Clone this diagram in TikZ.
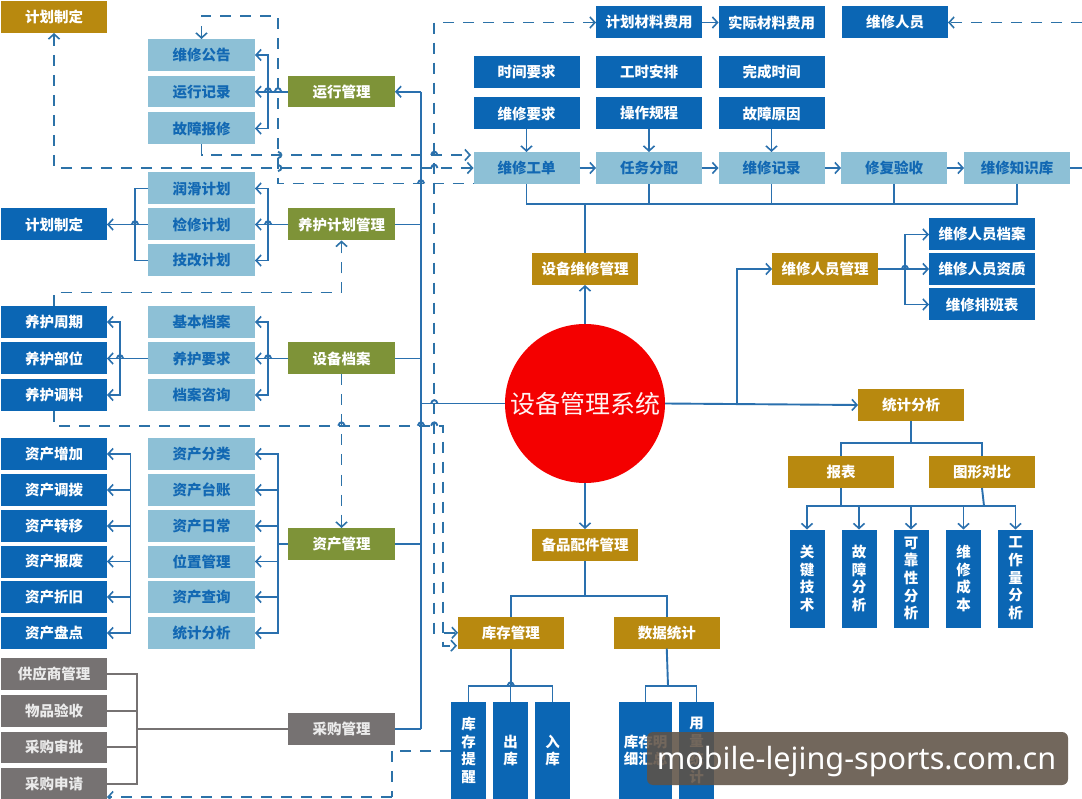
\documentclass[tikz,border=0pt]{standalone}
\usepackage{fontspec}
\setmainfont{Noto Sans CJK SC}
\newfontfamily\wmfont{Noto Sans}
\usetikzlibrary{arrows.meta,calc,shapes.geometric}
\definecolor{cgold}{HTML}{B8890F}
\definecolor{cblue}{HTML}{0B66B4}
\definecolor{clight}{HTML}{8DC0D6}
\definecolor{colive}{HTML}{7E9338}
\definecolor{cgray}{HTML}{767272}
\definecolor{cline}{HTML}{2A70AE}
\definecolor{cdash}{HTML}{2C72A8}
\definecolor{ctext}{HTML}{1268B3}
\definecolor{cred}{HTML}{F40000}
\definecolor{cwm}{HTML}{5F5246}
\newcommand\bx[7]{\node[#2,minimum width={(#5-#3)*1pt},minimum height={(#6-#4)*1pt}] (#1) at ({(#3+#5)/2},{(#4+#6)/2}) {#7};}
\newcommand\hop[2]{\draw[ln] (#1-3.2,#2) .. controls (#1-2,#2-4.5) and (#1+2,#2-4.5) .. (#1+3.2,#2);}
\newcommand\vhop[2]{\draw[ln,cdash] (#1,#2-3.2) .. controls (#1+4.5,#2-2) and (#1+4.5,#2+2) .. (#1,#2+3.2);}
\tikzset{
  x=1pt,y=-1pt,
  >={Straight Barb[length=5pt,width=11pt,line width=1.6pt]},
  boxbase/.style={inner sep=0pt,outer sep=0pt,font=\fontsize{14.5}{17.7}\selectfont\bfseries,align=center,text=white},
  goldbox/.style={boxbase,fill=cgold},
  bluebox/.style={boxbase,fill=cblue},
  lightbox/.style={boxbase,fill=clight,text=ctext},
  olivebox/.style={boxbase,fill=colive},
  graybox/.style={boxbase,fill=cgray,text=white!92!black},
  ln/.style={draw=cline,line width=1.9pt},
  gl/.style={draw=cgray,line width=1.9pt},
  dsh/.style={draw=cdash,line width=1.9pt,dash pattern=on 11pt off 9pt},
}
\begin{document}
\begin{tikzpicture}
\useasboundingbox (0,0) rectangle (1082,799);
\fill[white] (0,0) rectangle (1082,799);
% left column
\bx{gplan}{goldbox}{1}{1}{107}{33}{计划制定}
\bx{bplan}{bluebox}{1}{208.5}{107}{240.5}{计划制定}
\bx{yhzq}{bluebox}{1}{306}{107}{338}{养护周期}
\bx{yhbw}{bluebox}{1}{342.5}{107}{374.5}{养护部位}
\bx{yhtl}{bluebox}{1}{379}{107}{411}{养护调料}
\bx{zczj}{bluebox}{1}{438}{107}{470}{资产增加}
\bx{zcdb}{bluebox}{1}{474}{107}{506}{资产调拨}
\bx{zczy}{bluebox}{1}{510}{107}{542}{资产转移}
\bx{zcbf}{bluebox}{1}{545.5}{107}{577.5}{资产报废}
\bx{zczc}{bluebox}{1}{581}{107}{613}{资产折旧}
\bx{zcpd}{bluebox}{1}{617}{107}{649}{资产盘点}
\bx{gys}{graybox}{1}{658}{107}{690}{供应商管理}
\bx{wpys}{graybox}{1}{695}{107}{727}{物品验收}
\bx{cgsp}{graybox}{1}{731.5}{107}{763}{采购审批}
\bx{cgsq}{graybox}{1}{768}{107}{799}{采购申请}
% middle column
\bx{wxgg}{lightbox}{148}{39}{255}{71}{维修公告}
\bx{yxjl}{lightbox}{148}{76}{255}{107.5}{运行记录}
\bx{gzbx}{lightbox}{148}{112.5}{255}{144.5}{故障报修}
\bx{rhjh}{lightbox}{148}{172.5}{255}{204.5}{润滑计划}
\bx{jxjh}{lightbox}{148}{208.5}{255}{240.5}{检修计划}
\bx{jgjh}{lightbox}{148}{244.5}{255}{276.5}{技改计划}
\bx{jbda}{lightbox}{148}{306}{255}{338}{基本档案}
\bx{yhyq}{lightbox}{148}{342.5}{255}{374.5}{养护要求}
\bx{dazx}{lightbox}{148}{379}{255}{411}{档案咨询}
\bx{zcfl}{lightbox}{148}{438}{255}{470}{资产分类}
\bx{zctz}{lightbox}{148}{474}{255}{506}{资产台账}
\bx{zcrc}{lightbox}{148}{510}{255}{542}{资产日常}
\bx{wzgl}{lightbox}{148}{545.5}{255}{577.5}{位置管理}
\bx{zccx}{lightbox}{148}{581}{255}{613}{资产查询}
\bx{tjfx}{lightbox}{148}{617}{255}{649}{统计分析}
% management column
\bx{yxgl}{olivebox}{288}{76}{395}{107.5}{运行管理}
\bx{yhgl}{olivebox}{288}{208.5}{395}{240.5}{养护计划管理}
\bx{sbda}{olivebox}{288}{342.5}{395}{374.5}{设备档案}
\bx{zcgl}{olivebox}{288}{528}{395}{560}{资产管理}
\bx{cggl}{graybox}{288}{713}{395}{745}{采购管理}
% top region
\bx{jhcl}{bluebox}{596}{6.5}{702}{38.5}{计划材料费用}
\bx{sjcl}{bluebox}{718.5}{6.5}{824.5}{38.5}{实际材料费用}
\bx{wxry}{bluebox}{842}{6.5}{948}{38.5}{维修人员}
\bx{sjyq}{bluebox}{473.5}{56}{579.5}{88}{时间要求}
\bx{gsap}{bluebox}{596}{56}{702}{88}{工时安排}
\bx{wcsj}{bluebox}{718.5}{56}{824.5}{88}{完成时间}
\bx{wxyq}{bluebox}{473.5}{97.5}{579.5}{129.5}{维修要求}
\bx{czgc}{bluebox}{596}{97.5}{702}{129.5}{操作规程}
\bx{gzyy}{bluebox}{718.5}{97.5}{824.5}{129.5}{故障原因}
\bx{wxgd}{lightbox}{473.5}{152}{579.5}{184}{维修工单}
\bx{rwfp}{lightbox}{596}{152}{702}{184}{任务分配}
\bx{wxjl}{lightbox}{718.5}{152}{824.5}{184}{维修记录}
\bx{xfys}{lightbox}{841}{152}{947}{184}{修复验收}
\bx{zsk}{lightbox}{964}{152}{1070}{184}{维修知识库}
\bx{wxgl}{goldbox}{532}{253}{638}{285}{设备维修管理}
\bx{rygl}{goldbox}{772}{253}{878}{285}{维修人员管理}
\bx{ryda}{bluebox}{929}{218.5}{1035}{250.5}{维修人员档案}
\bx{ryzz}{bluebox}{929}{253}{1035}{285}{维修人员资质}
\bx{pbb}{bluebox}{929}{288.5}{1035}{320.5}{维修排班表}
% centre
\node[ellipse,fill=cred,minimum width=160pt,minimum height=159pt,inner sep=0pt,outer sep=0pt] (sys) at (585,403.5) {};
\node[inner sep=0pt,text=white!95!red,font=\fontsize{25}{25}\selectfont] (systxt) at (sys.center) {设备管理系统};
% statistics
\bx{tj}{goldbox}{858}{389}{964}{421}{统计分析}
\bx{bb}{goldbox}{788}{456}{894}{488}{报表}
\bx{txdb}{goldbox}{929}{456}{1035}{488}{图形对比}
\bx{gjjs}{bluebox}{789.5}{529.5}{824.5}{627.5}{关\\键\\技\\术}
\bx{gzfx}{bluebox}{841.5}{529.5}{876.5}{627.5}{故\\障\\分\\析}
\bx{kkx}{bluebox}{893.5}{529.5}{928.5}{627.5}{可\\靠\\性\\分\\析}
\bx{wxcb}{bluebox}{946}{529.5}{981}{627.5}{维\\修\\成\\本}
\bx{gzl}{bluebox}{998}{529.5}{1033}{627.5}{工\\作\\量\\分\\析}
% spares
\bx{bpgl}{goldbox}{532}{529}{638}{561}{备品配件管理}
\bx{kcgl}{goldbox}{458}{617}{563.5}{648.5}{库存管理}
\bx{sjtj}{goldbox}{614}{617}{719.5}{648.5}{数据统计}
\bx{kctx}{bluebox}{451}{702}{486}{799}{库\\存\\提\\醒}
\bx{ck}{bluebox}{493}{702}{528}{799}{出\\库}
\bx{rk}{bluebox}{535}{702}{570}{799}{入\\库}
\bx{kcmx}{bluebox}{619}{702}{672}{799}{库存明\\细汇总}
\bx{ylfx}{bluebox}{679}{702}{714}{799}{用\\量\\统\\计}
% ---------- solid connectors: operations
\coordinate (tk) at (421,403.5);
\draw[ln] (yxgl.east -| tk) -- (cggl.east -| tk);
\draw[ln,->] (yxgl.east -| tk) -- (yxgl.east);
\draw[ln] (yhgl.east) -- (yhgl.east -| tk);
\draw[ln] (sbda.east) -- (sbda.east -| tk);
\draw[ln] (zcgl.east) -- (zcgl.east -| tk);
\draw[ln] (cggl.east) -- (cggl.east -| tk);
\draw[ln] (tk) -- (sys.west);
\hop{434.3}{403.5}
% run mgmt
\coordinate (b1) at (268,91.75);
\draw[ln] (yxgl.west) -- (b1);
\draw[ln,->] (b1) |- (wxgg.east);
\draw[ln,->] (b1) -- (yxjl.east);
\draw[ln,->] (b1) |- (gzbx.east);
\hop{268}{91.5}\hop{278}{91.5}
% maintenance plan
\coordinate (b2) at (268,224.5);
\draw[ln] (yhgl.west) -- (b2);
\draw[ln,->] (b2) |- (rhjh.east);
\draw[ln,->] (b2) -- (jxjh.east);
\draw[ln,->] (b2) |- (jgjh.east);
\hop{268}{224.5}
\coordinate (b3) at (135,224.5);
\draw[ln] (rhjh.west) -| (b3);
\draw[ln] (jgjh.west) -| (b3);
\draw[ln,->] (jxjh.west) -- (bplan.east);
\hop{135}{224.5}
% archive
\coordinate (b4) at (268,358.5);
\draw[ln] (sbda.west) -- (b4);
\draw[ln,->] (b4) |- (jbda.east);
\draw[ln,->] (b4) -- (yhyq.east);
\draw[ln,->] (b4) |- (dazx.east);
\hop{268}{358.5}
\coordinate (b5) at (120,358.5);
\draw[ln] (yhyq.west) -- (b5);
\draw[ln,->] (b5) |- (yhzq.east);
\draw[ln,->] (b5) -- (yhbw.east);
\draw[ln,->] (b5) |- (yhtl.east);
\hop{120}{358.5}
% assets
\coordinate (b6) at (278,544);
\draw[ln] (zcgl.west) -- (b6);
\foreach \t in {zcfl,zctz,zcrc,wzgl,zccx,tjfx}{\draw[ln,->] (b6) |- (\t.east);}
\coordinate (b7) at (130.5,544);
\foreach \t in {zczj,zcdb,zczy,zcbf,zczc,zcpd}{\draw[ln,->] (b7) |- (\t.east);}
% purchasing
\coordinate (b8) at (137,729);
\draw[gl] (cggl.west) -- (b8);
\foreach \t in {gys,wpys,cgsp}{\draw[gl] (\t.east) -| (b8);}
\draw[gl] (cgsq.east |- 0,784) -| (b8);
% work-order chain
\draw[ln,->] (jhcl.east) -- (sjcl.west);
\draw[ln,->] (wxyq.south) -- (wxgd.north);
\draw[ln,->] (czgc.south) -- (rwfp.north);
\draw[ln,->] (gzyy.south) -- (wxjl.north);
\draw[ln,->] (wxgd.east) -- (rwfp.west);
\draw[ln,->] (rwfp.east) -- (wxjl.west);
\draw[ln,->] (wxjl.east) -- (xfys.west);
\draw[ln,->] (xfys.east) -- (zsk.west);
\coordinate (edgeR) at (1082,168);
\draw[ln] (zsk.east) -- (edgeR);
\coordinate (bus) at (585,204);
\foreach \t in {wxgd,rwfp,wxjl,xfys,zsk}{\draw[ln] (\t.south) |- (bus);}
\draw[ln] (wxgl.north) -- (bus);
\draw[ln,->] (sys.north) -- (wxgl.south);
% people
\coordinate (b9) at (737,403.7);
\draw[ln,->] (b9) |- (rygl.west);
\coordinate (b10) at (905,269);
\draw[ln] (rygl.east) -- (b10);
\draw[ln,->] (b10) |- (ryda.west);
\draw[ln,->] (b10) -- (ryzz.west);
\draw[ln,->] (b10) |- (pbb.west);
\hop{905}{269}
% statistics
\draw[ln,->] (sys.east) -- (tj.west);
\coordinate (b11) at (911,443);
\draw[ln] (tj.south) -- (b11);
\draw[ln] (bb.north) |- (b11);
\draw[ln] (txdb.north) |- (b11);
\coordinate (b12) at (911,505.7);
\draw[ln] (bb.south) |- (b12);
\draw[ln] (txdb.south) -- ++(2,17.7);
\foreach \t in {gjjs,gzfx,kkx,wxcb,gzl}{\draw[ln,->] (b12) -| (\t.north);}
% spares
\draw[ln,->] (sys.south) -- (bpgl.north);
\coordinate (b13) at (585,596);
\draw[ln] (bpgl.south) -- (b13);
\draw[ln] (kcgl.north) |- (b13);
\draw[ln] (sjtj.north) |- (b13);
\coordinate (b14) at (510.75,685.7);
\draw[ln] (kcgl.south) -- (b14);
\foreach \t in {kctx,ck,rk}{\draw[ln] (\t.north) |- (b14);}
\hop{510.75}{685.7}
\coordinate (b15) at (668,685.7);
\draw[ln] (sjtj.south) -- (b15);
\foreach \t in {kcmx,ylfx}{\draw[ln] (\t.north) |- (b15);}
% ---------- dashed connectors
\draw[dsh,<->] (gplan.south) |- (wxgd.west);
\coordinate (d1) at (278,16);
\coordinate (d1b) at (278,183.5);
\draw[dsh,<-] (wxgg.north) |- (d1) -- (d1b) -- (wxgd.west |- d1b);
\coordinate (d2) at (471,155);
\draw[dsh,->] (gzbx.south) |- (d2);
\coordinate (d3) at (434.3,22.5);
\draw[dsh,<->] (jhcl.west) -- (d3) |- (kcgl.west);
\coordinate (d4) at (341.5,292.5);
\draw[dsh,->] (yhzq.north) |- (d4) -- (yhgl.south);
\coordinate (d5) at (443.3,425.7);
\coordinate (d5b) at (457,645.7);
\draw[dsh,->] (yhtl.south) |- (d5) |- (d5b);
\draw[dsh,->] (sbda.south) -- (zcgl.north);
\coordinate (edgeT) at (1082,22.5);
\draw[dsh,->] (edgeT) -- (wxry.east);
\coordinate (d6) at (391.7,750.7);
\coordinate (d7) at (391.7,797);
\draw[dsh] (kctx.west |- d6) -- (d6) -- (d7);
\draw[dsh,->] (d7) -- (cgsq.east |- d7);
\hop{341.5}{425.7}\hop{421}{425.7}\hop{434.3}{425.7}
\hop{434.3}{155}\hop{434.3}{168}
\hop{421}{183.5}
\vhop{278}{155}\vhop{278}{168}
% ---------- watermark
\node[fill=cwm,fill opacity=.88,rounded corners=6pt,inner sep=0pt,minimum width=421pt,minimum height=53pt] (wm) at (857.5,758.5) {};
\node[inner sep=0pt,text=white,font=\wmfont\fontsize{30.6}{32}\selectfont] (wmtxt) at (856.5,761.5) {mobile-lejing-sports.com.cn};
\end{tikzpicture}
\end{document}
